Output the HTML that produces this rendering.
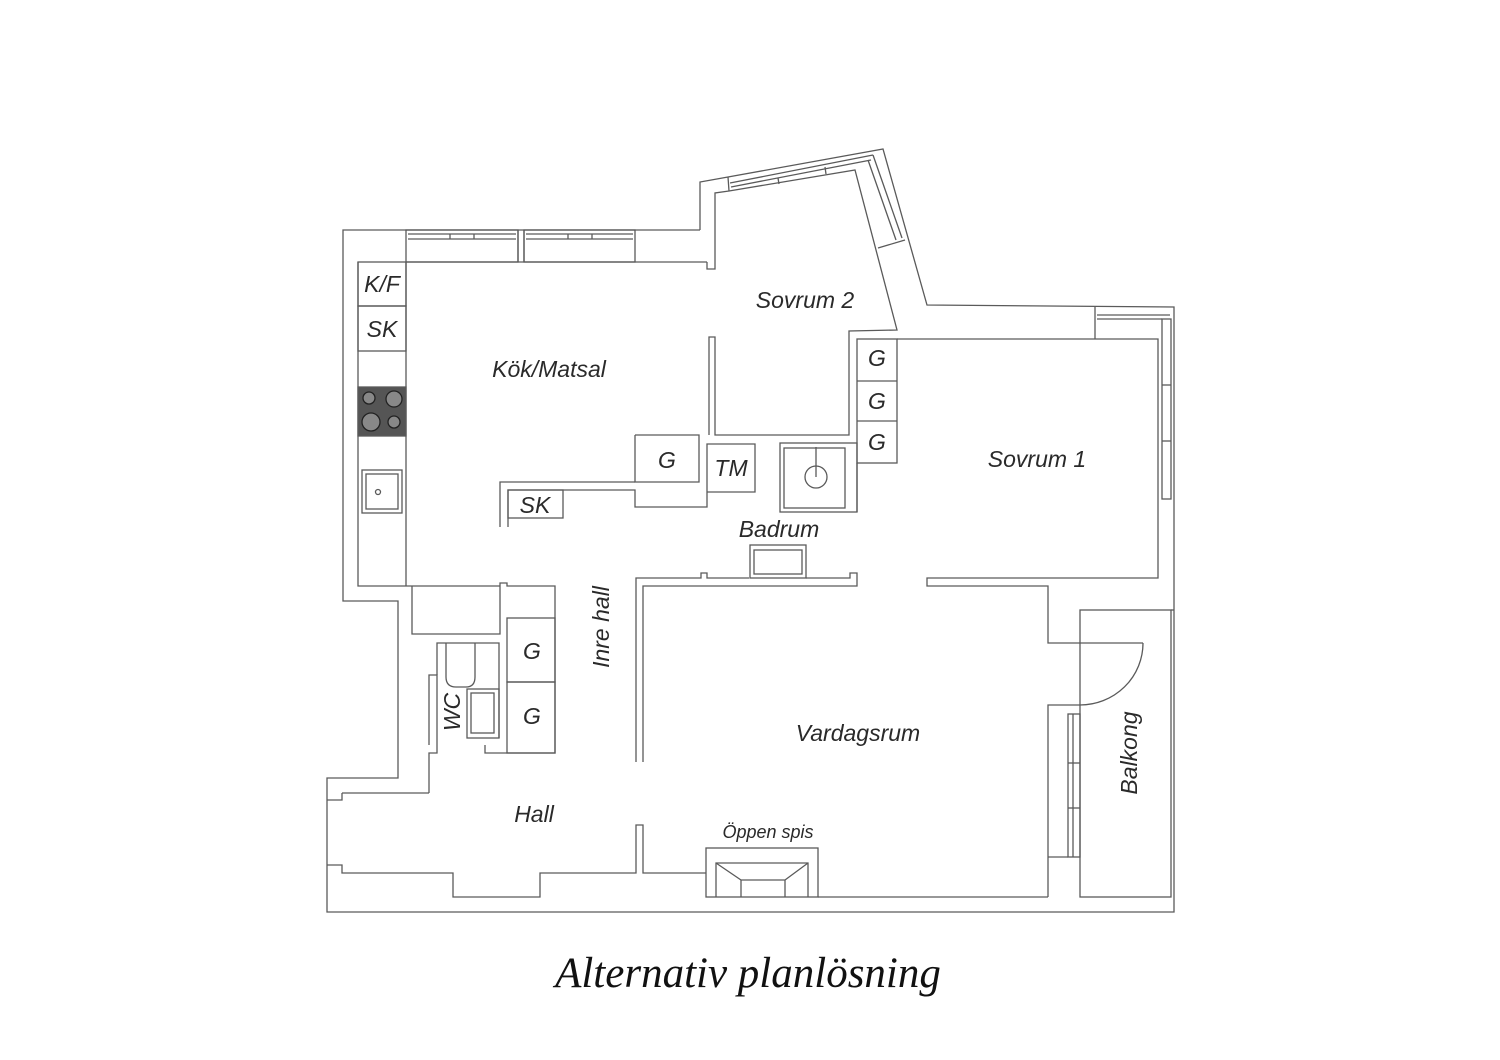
<!DOCTYPE html>
<html><head><meta charset="utf-8"><style>
html,body{margin:0;padding:0;background:#fff;}
svg{display:block;}
.w{fill:none;stroke:#5a5a5a;stroke-width:1.3;}
.t{font-family:"Liberation Sans",sans-serif;font-style:italic;fill:#2a2a2a;}
</style></head><body>
<svg width="1500" height="1060" viewBox="0 0 1500 1060" xmlns="http://www.w3.org/2000/svg">
<g class="w">
<polyline points="700,230 343,230 343,601 398,601 398,778 327,778 327,912 1174,912 1174,307 927,305 883,149 728,177 700,182 700,230"/>
<polyline points="707,262 707,269 715,269 715,193 729,191 855,170 897,330 849,331 849,435 715,435 715,337 709,337 709,435"/>
<polyline points="707,262 406,262"/>
<polyline points="358,262 358,586 500,586"/>
<line x1="406" y1="262" x2="406" y2="586"/>
<rect x="406" y="230" width="112" height="32"/>
<rect x="524" y="230" width="111" height="32"/>
<line x1="518" y1="230" x2="518" y2="262"/><line x1="524" y1="230" x2="524" y2="262"/>
<line x1="408" y1="234" x2="516" y2="234"/><line x1="408" y1="239" x2="516" y2="239"/>
<line x1="526" y1="234" x2="633" y2="234"/><line x1="526" y1="239" x2="633" y2="239"/>
<line x1="450" y1="234" x2="450" y2="239"/><line x1="474" y1="234" x2="474" y2="239"/>
<line x1="568" y1="234" x2="568" y2="239"/><line x1="592" y1="234" x2="592" y2="239"/>
<polyline points="728,177 729,191"/>
<polyline points="730,183 873,155"/><polyline points="731,187 871,160"/>
<line x1="778" y1="178" x2="779" y2="184"/><line x1="825" y1="167" x2="826" y2="174"/>
<polyline points="873,155 902,238"/><polyline points="868,160 896,240"/>
<line x1="878" y1="248" x2="905" y2="240"/>
<rect x="358" y="262" width="48" height="44"/>
<rect x="358" y="306" width="48" height="45"/>
<rect x="358" y="387" width="48" height="49" style="fill:#555"/>
<circle cx="369" cy="398" r="6" style="fill:#888;stroke:#222"/><circle cx="394" cy="399" r="8" style="fill:#888;stroke:#222"/>
<circle cx="371" cy="422" r="9" style="fill:#888;stroke:#222"/><circle cx="394" cy="422" r="6" style="fill:#888;stroke:#222"/>
<rect x="362" y="470" width="40" height="43"/><rect x="366" y="474" width="32" height="35"/>
<circle cx="378" cy="492" r="2.5"/>
<polyline points="635,435 699,435 699,482 635,482 635,435"/>
<polyline points="500,527 500,482 635,482"/>
<polyline points="508,527 508,490 635,490 635,507 707,507 707,444 755,444 755,492 707,492"/>
<rect x="508" y="490" width="55" height="28"/>
<rect x="780" y="443" width="77" height="69"/>
<rect x="784" y="448" width="61" height="60"/>
<circle cx="816" cy="477" r="11"/><line x1="816" y1="447" x2="816" y2="477"/>
<rect x="857" y="339" width="40" height="124"/>
<line x1="857" y1="381" x2="897" y2="381"/><line x1="857" y1="421" x2="897" y2="421"/>
<line x1="857" y1="463" x2="857" y2="512"/>
<polyline points="897,339 1158,339 1158,578 927,578 927,586 1048,586 1048,643 1080,643"/>
<line x1="1095" y1="307" x2="1095" y2="339"/>
<line x1="1097" y1="315" x2="1170" y2="315"/><line x1="1097" y1="319" x2="1162" y2="319"/>
<rect x="1162" y="319" width="9" height="180"/>
<line x1="1162" y1="385" x2="1171" y2="385"/><line x1="1162" y1="441" x2="1171" y2="441"/>
<polyline points="636,762 636,578 701,578 701,573 707,573 707,578 749,578"/>
<polyline points="806,578 850,578 850,573 857,573 857,586 643,586 643,762"/>
<rect x="750" y="545" width="56" height="33"/>
<rect x="754" y="550" width="48" height="24"/>
<polyline points="412,586 412,634 500,634 500,583 507,583 507,586 555,586 555,753 485,753 485,745"/>
<rect x="507" y="618" width="48" height="64"/><rect x="507" y="682" width="48" height="71"/>
<polyline points="429,793 429,753 437,753 437,745"/>
<polyline points="342,793 342,800 327,800"/>
<line x1="342" y1="793" x2="429" y2="793"/>
<polyline points="437,745 437,675 429,675 429,745"/>
<polyline points="437,675 437,643 499,643 499,738"/>
<path d="M446,643 V677 Q446,687 456,687 H466 Q475,687 475,677 V643"/>
<rect x="467" y="689" width="32" height="49"/><rect x="471" y="693" width="23" height="40"/>
<polyline points="327,865 342,865 342,873 453,873 453,897 540,897 540,873 636,873 636,825 643,825 643,873 706,873"/>
<rect x="706" y="848" width="112" height="49"/>
<polyline points="716,897 716,863 808,863 808,897"/>
<polyline points="716,863 741,880 785,880 808,863"/><line x1="741" y1="880" x2="741" y2="897"/><line x1="785" y1="880" x2="785" y2="897"/>
<line x1="818" y1="897" x2="1048" y2="897"/>
<polyline points="1048,897 1048,705 1080,705"/>
<rect x="1068" y="714" width="12" height="143"/><line x1="1073" y1="714" x2="1073" y2="857"/>
<line x1="1068" y1="763" x2="1080" y2="763"/><line x1="1068" y1="808" x2="1080" y2="808"/>
<line x1="1048" y1="857" x2="1068" y2="857"/>
<rect x="1080" y="610" width="91" height="287"/>
<line x1="1171" y1="610" x2="1174" y2="610"/>
<line x1="1080" y1="643" x2="1143" y2="643"/>
<path d="M1143,643 A63,62 0 0 1 1080,705"/>
</g>
<g class="t" font-size="23">
<text x="805" y="308" text-anchor="middle">Sovrum 2</text>
<text x="549" y="377" text-anchor="middle">Kök/Matsal</text>
<text x="1037" y="467" text-anchor="middle">Sovrum 1</text>
<text x="779" y="537" text-anchor="middle">Badrum</text>
<text x="858" y="741" text-anchor="middle">Vardagsrum</text>
<text x="534" y="822" text-anchor="middle">Hall</text>
<text x="382" y="292" text-anchor="middle">K/F</text>
<text x="382" y="337" text-anchor="middle">SK</text>
<text x="535" y="513" text-anchor="middle">SK</text>
<text x="667" y="468" text-anchor="middle">G</text>
<text x="731" y="476" text-anchor="middle">TM</text>
<text x="877" y="366" text-anchor="middle">G</text>
<text x="877" y="409" text-anchor="middle">G</text>
<text x="877" y="450" text-anchor="middle">G</text>
<text x="532" y="659" text-anchor="middle">G</text>
<text x="532" y="724" text-anchor="middle">G</text>
<text transform="translate(609,627) rotate(-90)" text-anchor="middle">Inre hall</text>
<text transform="translate(460,712) rotate(-90)" text-anchor="middle">WC</text>
<text transform="translate(1137,753) rotate(-90)" text-anchor="middle">Balkong</text>
<text x="768" y="838" text-anchor="middle" font-size="18">Öppen spis</text>
</g>
<text x="748" y="987" text-anchor="middle" font-family="Liberation Serif,serif" font-style="italic" font-size="43" fill="#111">Alternativ planlösning</text>
</svg>
</body></html>
